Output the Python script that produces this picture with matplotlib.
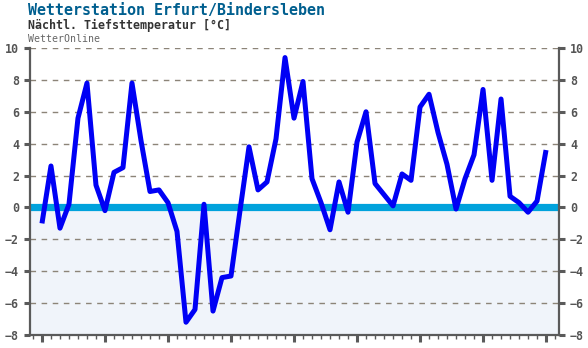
import numpy as np
import matplotlib
matplotlib.use('Agg')
import matplotlib.pyplot as plt
from matplotlib.ticker import MultipleLocator

# nightly minimum temperature, one value per day
temps = [-1.0, 2.6, -1.3, 0.2, 5.6, 7.8, 1.4, -0.2, 2.2, 2.5,
         7.8, 4.2, 1.0, 1.1, 0.3, -1.5, -7.2, -6.4, 0.2, -6.5,
         -4.4, -4.3, -0.2, 3.8, 1.1, 1.6, 4.3, 9.4, 5.6, 7.9,
         1.8, 0.3, -1.4, 1.6, -0.3, 4.1, 6.0, 1.5, 0.8, 0.1,
         2.1, 1.7, 6.3, 7.1, 4.7, 2.7, -0.1, 1.8, 3.3, 7.4,
         1.7, 6.8, 0.7, 0.3, -0.3, 0.4, 3.6]
yticks = [-8, -6, -4, -2, 0, 2, 4, 6, 8, 10]

title = 'Wetterstation Erfurt/Bindersleben'
subtitle = 'N\u00e4chtl. Tiefsttemperatur [\u00b0C]'
source = 'WetterOnline'

mono = 'DejaVu Sans Mono'
days = np.arange(len(temps))

fig = plt.figure(figsize=(5.88, 3.48), dpi=100)
ax = fig.add_axes([30 / 588, 1 - 335 / 348, 529 / 588, 287 / 348])

ax.set_xlim(-1.33, 57.44)
ax.set_ylim(-8, 10)

# background below zero
ax.axhspan(-8, 0, color='#f0f4fa', zorder=0, lw=0)

# dashed grid
for v in yticks:
    if v in (-8, 0):
        continue
    ax.axhline(v, color='#8c8478', lw=1.0, ls=(0, (4, 4)), zorder=1)

# zero band
ax.axhline(0, color='#00a2dc', lw=5.2, zorder=2)

ax.plot(days, temps, color='#0000f5', lw=3.6, solid_joinstyle='round',
        solid_capstyle='butt', zorder=3)

ax.spines['top'].set_visible(False)
for s in ['left', 'right', 'bottom']:
    ax.spines[s].set_color('#5a5a5a')
    ax.spines[s].set_linewidth(1.6)

ax.set_yticks(yticks)
ax.tick_params(axis='y', which='both', left=True, right=True, labelleft=True,
               labelright=True, length=4.5, width=2.2, color='#5a5a5a', pad=3.5,
               labelcolor='#555555', labelsize=8.4)
for lab in ax.get_yticklabels():
    lab.set_family(mono)
    lab.set_fontweight('bold')

ax.xaxis.set_major_locator(MultipleLocator(7))
ax.xaxis.set_minor_locator(MultipleLocator(1))
ax.tick_params(axis='x', which='major', length=5, width=2.2, color='#5a5a5a',
               labelbottom=False, pad=1)
ax.tick_params(axis='x', which='minor', length=3, width=1, color='#5a5a5a')

fig.text(28 / 588, 1 - 10 / 348, title, family=mono, fontweight='bold',
         fontsize=10.8, color='#005f8f', va='center', ha='left')
fig.text(28 / 588, 1 - 25 / 348, subtitle, family=mono, fontweight='bold',
         fontsize=8.4, color='#333333', va='center', ha='left')
fig.text(28 / 588, 1 - 39.5 / 348, source, family=mono,
         fontsize=7.1, color='#666666', va='center', ha='left')

fig.savefig('out.png', dpi=100)
